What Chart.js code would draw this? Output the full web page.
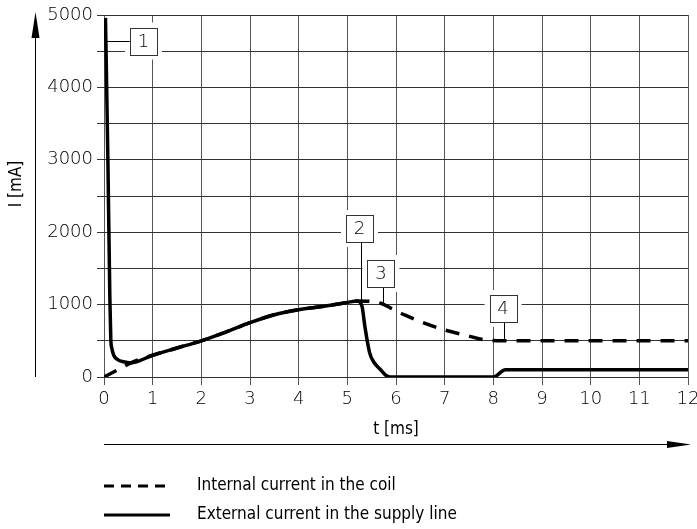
<!DOCTYPE html>
<html>
<head>
<meta charset="utf-8">
<script src="https://cdn.jsdelivr.net/npm/chart.js@4"></script>
<style>
  html, body { margin: 0; padding: 0; background: #fff; }
  #wrap { position: relative; width: 697px; height: 529px; }
</style>
</head>
<body>
<div id="wrap"><canvas id="coilChart" width="697" height="529"></canvas></div>
<script>
// External current in the supply line (solid), t [ms] / I [mA]
const tExternal = [0.03, 0.08, 0.12, 0.14, 0.16, 0.2, 0.28, 0.4, 0.55, 1.0, 1.5, 2.0, 2.5, 3.0, 3.5, 4.0, 4.5, 5.0, 5.2, 5.3, 5.36, 5.46, 5.55, 5.67, 5.78, 5.88, 8.0, 8.25, 12];
const iExternal = [4960, 3000, 1100, 520, 400, 300, 240, 210, 195, 300, 400, 500, 620, 750, 860, 930, 975, 1030, 1050, 980, 700, 330, 200, 110, 30, 0, 0, 100, 100];

// Internal current in the coil (dashed)
const tInternal = [0, 0.3, 0.55, 1.0, 1.5, 2.0, 2.5, 3.0, 3.5, 4.0, 4.5, 5.0, 5.2, 5.45, 5.7, 5.9, 6.2, 6.5, 7.0, 7.5, 7.8, 8.2, 12];
const iInternal = [0, 105, 195, 300, 400, 500, 620, 750, 860, 930, 975, 1030, 1050, 1045, 1015, 948, 850, 765, 650, 565, 515, 500, 500];

const xTicks = [0, 1, 2, 3, 4, 5, 6, 7, 8, 9, 10, 11, 12];
const yGrid = [0, 500, 1000, 1500, 2000, 2500, 3000, 3500, 4000, 4500, 5000];
const yLabelled = [0, 1000, 2000, 3000, 4000, 5000];

// numbered callouts: box centre and the point the leader line ends at
const calloutLabels = ['1', '2', '3', '4'];
const calloutBoxT = [0.81, 5.25, 5.69, 8.2];
const calloutBoxI = [4640, 2050, 1430, 946];
const calloutTipT = [0.05, 5.29, 5.73, 8.22];
const calloutTipI = [4640, 1060, 1020, 505];

const legendLabels = ['Internal current in the coil', 'External current in the supply line'];

const FONT = "'DejaVu Sans', sans-serif";
const NARROW = "'DejaVu Sans Condensed', 'DejaVu Sans', sans-serif";
const INK = '#000';

const decorPlugin = {
  id: 'decor',
  beforeDatasetsDraw(chart) {
    const { ctx, scales: { x, y } } = chart;
    ctx.save();
    const bw = 27, bh = 27;
    calloutLabels.forEach((lab, i) => {
      const cx = x.getPixelForValue(calloutBoxT[i]);
      const cy = y.getPixelForValue(calloutBoxI[i]);
      const tx = x.getPixelForValue(calloutTipT[i]);
      const ty = y.getPixelForValue(calloutTipI[i]);
      // clear the grid round the box
      ctx.fillStyle = '#fff';
      ctx.fillRect(cx - bw / 2 - 5, cy - bh / 2 - 5, bw + 10, bh + 10);
      // leader
      ctx.strokeStyle = INK;
      ctx.lineWidth = 1;
      ctx.beginPath();
      if (Math.abs(ty - cy) > Math.abs(tx - cx)) {
        ctx.moveTo(Math.round(tx) + 0.5, cy + bh / 2);
        ctx.lineTo(Math.round(tx) + 0.5, ty);
      } else {
        ctx.moveTo(cx - bw / 2, Math.round(ty) + 0.5);
        ctx.lineTo(tx, Math.round(ty) + 0.5);
      }
      ctx.stroke();
      ctx.fillRect(cx - bw / 2, cy - bh / 2, bw, bh);
      ctx.strokeStyle = '#333';
      ctx.strokeRect(Math.round(cx - bw / 2) + 0.5, Math.round(cy - bh / 2) + 0.5, bw, bh);
      ctx.fillStyle = INK;
      ctx.font = '200 18px ' + FONT;
      ctx.textAlign = 'center';
      ctx.textBaseline = 'middle';
      ctx.fillText(lab, cx, cy + 1);
    });
    ctx.restore();
  },
  afterDraw(chart) {
    const { ctx, chartArea } = chart;
    ctx.save();
    ctx.fillStyle = INK;
    ctx.strokeStyle = INK;
    ctx.lineWidth = 1;

    // vertical axis arrow
    ctx.beginPath();
    ctx.moveTo(35.5, chartArea.bottom);
    ctx.lineTo(35.5, 30);
    ctx.stroke();
    ctx.beginPath();
    ctx.moveTo(35.5, 12);
    ctx.lineTo(31.5, 38);
    ctx.lineTo(39.5, 38);
    ctx.closePath();
    ctx.fill();

    // horizontal axis arrow
    const ay = 444.5;
    ctx.beginPath();
    ctx.moveTo(chartArea.left, ay);
    ctx.lineTo(chartArea.right - 10, ay);
    ctx.stroke();
    ctx.beginPath();
    ctx.moveTo(chartArea.right + 3, ay);
    ctx.lineTo(chartArea.right - 21, ay - 3.5);
    ctx.lineTo(chartArea.right - 21, ay + 3.5);
    ctx.closePath();
    ctx.fill();

    // axis titles
    ctx.font = '17px ' + NARROW;
    ctx.textAlign = 'center';
    ctx.textBaseline = 'middle';
    ctx.fillText('t [ms]', (chartArea.left + chartArea.right) / 2, 430);
    ctx.save();
    ctx.translate(17, 184);
    ctx.rotate(-Math.PI / 2);
    ctx.fillText('I [mA]', 0, 0);
    ctx.restore();

    // legend
    const rows = [486, 515];
    chart.data.datasets.forEach((ds, i) => {
      ctx.strokeStyle = '#000';
      ctx.lineWidth = 3;
      ctx.setLineDash(i === 0 ? [10, 7] : []);
      ctx.beginPath();
      ctx.moveTo(104, rows[i]);
      ctx.lineTo(170, rows[i]);
      ctx.stroke();
      ctx.setLineDash([]);
      ctx.textAlign = 'left';
      ctx.fillText(ds.label, 197, rows[i]);
    });
    ctx.restore();
  }
};

const toPoints = (ts, is) => ts.map((t, k) => ({ x: t, y: is[k] }));

new Chart(document.getElementById('coilChart'), {
  type: 'line',
  data: {
    datasets: [
      {
        label: legendLabels[0],
        data: toPoints(tInternal, iInternal),
        borderColor: '#000',
        borderWidth: 3.5,
        borderDash: [14, 10],
        pointRadius: 0,
        cubicInterpolationMode: 'monotone',
        fill: false
      },
      {
        label: legendLabels[1],
        data: toPoints(tExternal, iExternal),
        borderColor: '#000',
        borderWidth: 3.5,
        pointRadius: 0,
        cubicInterpolationMode: 'monotone',
        fill: false
      }
    ]
  },
  options: {
    responsive: false,
    animation: false,
    devicePixelRatio: 1,
    layout: { padding: { left: 0, right: 9, top: 15, bottom: 112 } },
    plugins: { legend: { display: false }, tooltip: { enabled: false } },
    scales: {
      x: {
        type: 'linear',
        min: 0,
        max: 12,
        afterBuildTicks: s => { s.ticks = xTicks.map(v => ({ value: v })); },
        afterFit: s => { s.height = 40; s.paddingLeft = 0; s.paddingRight = 0; },
        border: { display: false },
        grid: { color: '#555', lineWidth: 1, tickLength: 8 },
        ticks: { color: INK, font: { family: FONT, size: 18, weight: 200 }, padding: 4, maxRotation: 0 }
      },
      y: {
        type: 'linear',
        min: 0,
        max: 5000,
        afterBuildTicks: s => { s.ticks = yGrid.map(v => ({ value: v })); },
        afterFit: s => { s.width = 104; s.paddingTop = 0; s.paddingBottom = 0; },
        border: { display: false },
        grid: { color: '#333', lineWidth: 1, tickLength: 7 },
        ticks: {
          color: INK,
          font: { family: FONT, size: 18, weight: 200 },
          padding: 4,
          callback: v => (yLabelled.includes(v) ? String(v) : '')
        }
      }
    }
  },
  plugins: [decorPlugin]
});
</script>
</body>
</html>
